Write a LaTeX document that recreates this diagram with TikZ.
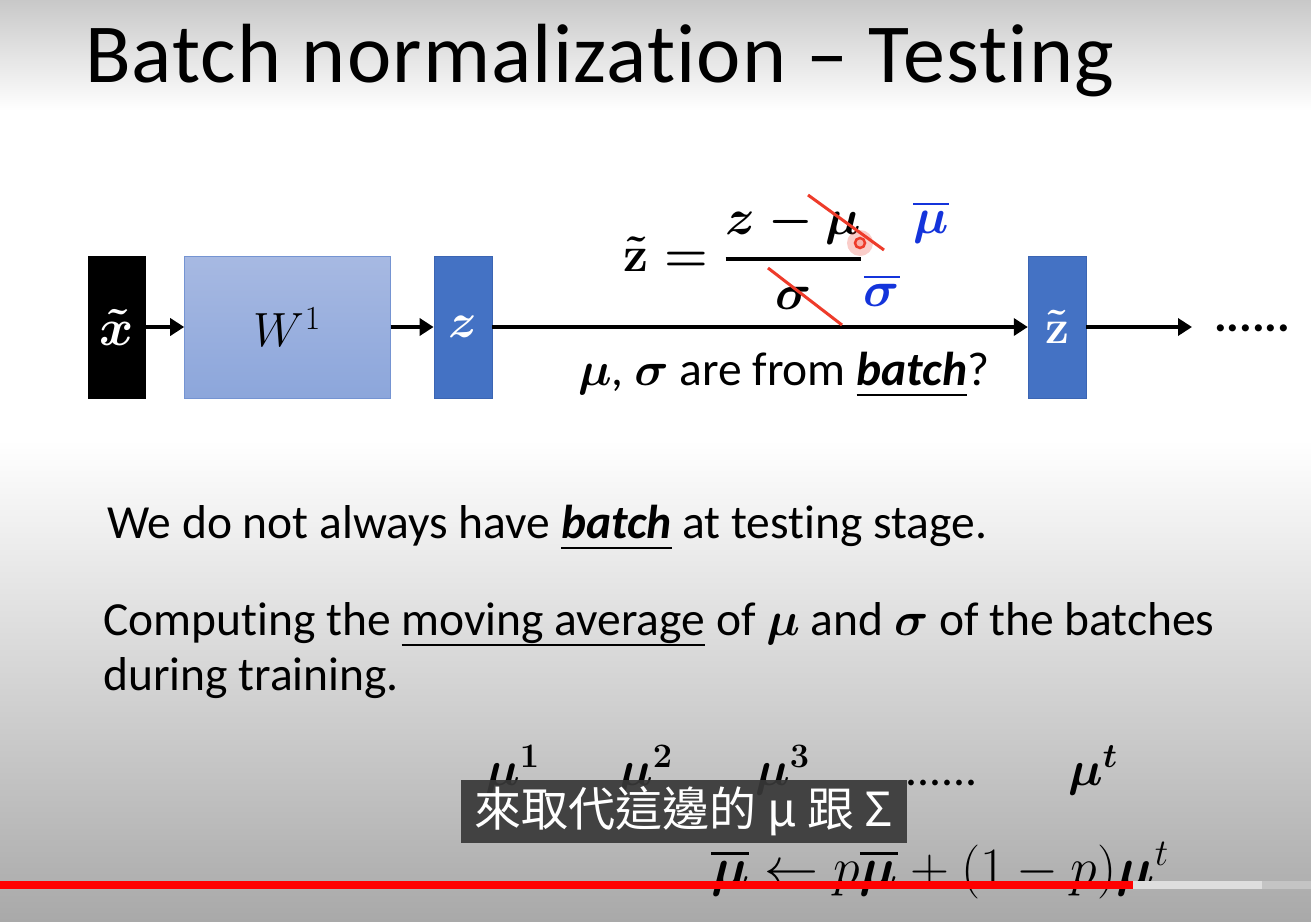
\RequirePackage{fix-cm}
\documentclass[tikz,border=0pt]{standalone}
\usepackage{amsmath,amssymb,bm}
\usepackage[no-math]{fontspec}
\setmainfont[Ligatures=NoCommon]{Carlito}
\newfontfamily\cjk{Noto Sans CJK TC}
\usepackage{xcolor}
\usepackage{tikz}
\usetikzlibrary{positioning,arrows.meta,calc}
\definecolor{TopGray}{HTML}{C8C8C8}
\definecolor{MidGray}{HTML}{DCDCDC}
\definecolor{BottomGray}{HTML}{A9A9A9}
\definecolor{LayerTop}{HTML}{A7B9E2}
\definecolor{LayerBot}{HTML}{8CA6DB}
\definecolor{LayerEdge}{HTML}{7594D2}
\definecolor{BlockBlue}{HTML}{4472C4}
\definecolor{BlockEdge}{HTML}{3B65B3}
\definecolor{MarkBlue}{HTML}{1434DB}
\definecolor{StrikeRed}{HTML}{EE3B2A}
\definecolor{CaptionBg}{HTML}{383838}
\definecolor{ProgressRed}{HTML}{FF0000}
\definecolor{BufferGray}{HTML}{DEDEDE}
\definecolor{TrackGray}{HTML}{C4C4C4}
% underline set well below the baseline, as on the slide
\newcommand{\lineunder}[1]{\setbox0\hbox{#1}\rlap{\rule[-11pt]{\wd0}{2pt}}\box0\relax}

\begin{document}
\begin{tikzpicture}[x=1pt,y=-1pt,
    block/.style={minimum width=58pt, minimum height=142pt, inner sep=0pt,
      fill=BlockBlue, draw=BlockEdge, text=white, font=\fontsize{48}{50}\selectfont\boldmath},
    flow/.style={line width=4pt, -{Triangle[length=14pt,width=17pt]}},
    strike/.style={draw=StrikeRed, line width=3pt},
    body/.style={inner sep=0pt, anchor=base west, font=\fontsize{47.5}{55}\selectfont},
    bigmath/.style={inner sep=0pt, font=\fontsize{50}{60}\selectfont\boldmath}]
  \useasboundingbox (0,0) rectangle (1311,921);

  % slide background
  \fill[white] (0,0) rectangle (1311,921);
  \shade[top color=TopGray, bottom color=white] (0,0) rectangle (1311,110);
  \shade[top color=white, middle color=MidGray, bottom color=BottomGray] (0,440) rectangle (1311,921);

  \node[anchor=base west, inner sep=0pt, font=\fontsize{84}{100}\selectfont\addfontfeatures{LetterSpace=1.4}] (title) at (85,82) {Batch normalization – Testing};

  % network
  \node[block, fill=black, draw=black, minimum width=57pt, font=\fontsize{52}{50}\selectfont\boldmath] (xt) at (116.5,327) {$\tilde{x}$};
  \node[block, right=39pt of xt, minimum width=206pt, draw=LayerEdge,
    top color=LayerTop, bottom color=LayerBot, text=black,
    font=\fontsize{48}{50}\selectfont] (wone) {$W^1$};
  \node[block, right=43pt of wone] (zbox) {$z$};
  \node[block] (ztbox) at (1057,327) {$\tilde{\mathbf{z}}$};
  \coordinate (outend) at (1192,327);
  \node[body, font=\fontsize{47.5}{55}\selectfont\bfseries] (dots) at (1214,331) {......};

  \draw[flow] (xt) -- (wone);
  \draw[flow] (wone) -- (zbox);
  \draw[flow] (zbox) -- (ztbox);
  \draw[flow] (ztbox) -- (outend);

  % normalisation formula
  \node[bigmath] (znorm) at (743,256) {$\tilde{\mathbf{z}} = \genfrac{}{}{3.5pt}{0}{z-\mu}{\sigma}$};
  \draw[strike] (808,195) -- (884,250);
  \draw[strike] (768,268) -- (842,325);
  \fill[StrikeRed, opacity=0.25] (860,243) circle (13);
  \draw[StrikeRed, line width=2.5pt, fill=StrikeRed!40] (860,243) circle (5);
  \node[bigmath, text=MarkBlue] (mubar) at (931,222) {$\overline{\mu}$};
  \node[bigmath, text=MarkBlue] (sigbar) at (882,290) {$\overline{\sigma}$};

  \node[body] (question) at (578,385) {$\boldsymbol{\mu}$, $\boldsymbol{\sigma}$ are from
    \lineunder{\textbf{\textit{batch}}}?};

  % text
  \node[body] (nobatch) at (107,538) {We do not always have
    \lineunder{\textbf{\textit{batch}}} at testing stage.};
  \node[body] (moving) at (103,635) {Computing the
    \lineunder{moving average} of $\boldsymbol{\mu}$ and $\boldsymbol{\sigma}$ of the batches};
  \node[body] (moving2) at (103,690) {during training.};

  % running means
  \foreach \xx/\k in {485/1, 618/2, 755/3}
    \node[body, font=\fontsize{49}{55}\selectfont\boldmath] (mu\k) at (\xx,785) {$\mu^{\k}$};
  \node[body] (mudots) at (905,785) {......};
  \node[body, font=\fontsize{49}{55}\selectfont\boldmath] (mut) at (1068,785) {$\mu^{t}$};
  \node[body, font=\fontsize{54}{55}\selectfont] (update) at (711,885) {$\overline{\boldsymbol{\mu}} \leftarrow p\overline{\boldsymbol{\mu}} + (1-p)\boldsymbol{\mu}^{t}$};

  % video overlay
  \node[fill=CaptionBg, fill opacity=0.92, text opacity=1, text=white,
    minimum width=446pt, minimum height=63pt, inner sep=0pt,
    font=\fontsize{47}{50}\cjk] (caption) at (684,811.5) {來取代這邊的 μ 跟 Σ};
  \fill[ProgressRed] (0,881) rectangle (1133,889);
  \fill[BufferGray] (1133,881) rectangle (1262,889);
  \fill[TrackGray] (1262,881) rectangle (1311,889);
\end{tikzpicture}
\end{document}
